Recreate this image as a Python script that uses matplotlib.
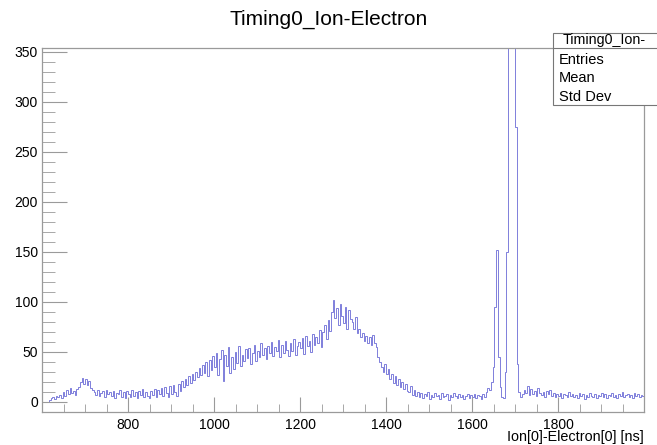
import numpy as np
import matplotlib
matplotlib.use("Agg")
from matplotlib import pyplot as plt
from matplotlib.patches import Rectangle
from matplotlib.ticker import MultipleLocator

# histogram: 350 bins of 4 ns from 600 to 2000 ns
bin_lo = 600
bin_hi = 2000
counts = [
    0, 0, 0, 0, 2, 4, 5, 3, 6, 5,             # 600
    7, 4, 10, 6, 12, 8, 14, 9, 11, 7,         # 640
    13, 15, 20, 24, 18, 23, 17, 21, 14, 12,   # 680
    10, 7, 12, 6, 9, 11, 5, 12, 8, 10,        # 720
    6, 11, 4, 9, 8, 12, 5, 10, 4, 11,         # 760
    8, 5, 12, 6, 10, 4, 11, 7, 13, 5,         # 800
    10, 6, 4, 11, 7, 13, 5, 12, 8, 14,        # 840
    6, 15, 9, 5, 16, 8, 17, 10, 6, 18,        # 880
    11, 21, 15, 23, 17, 26, 19, 28, 22, 30,   # 920
    25, 34, 27, 37, 29, 40, 26, 42, 32, 46,   # 960
    35, 49, 27, 43, 52, 21, 47, 36, 55, 29,   # 1000
    45, 33, 50, 39, 56, 36, 47, 41, 53, 44,   # 1040
    54, 38, 49, 57, 41, 51, 45, 59, 47, 54,   # 1080
    43, 56, 49, 60, 46, 55, 51, 62, 45, 57,   # 1120
    49, 61, 52, 46, 59, 51, 63, 47, 56, 60,   # 1160
    54, 64, 48, 66, 56, 61, 50, 68, 57, 65,   # 1200
    59, 72, 55, 70, 77, 63, 82, 71, 90, 102,  # 1240
    84, 94, 77, 98, 86, 79, 95, 73, 92, 83,   # 1280
    80, 73, 85, 69, 73, 65, 69, 61, 66, 59,   # 1320
    65, 57, 67, 59, 55, 45, 40, 35, 30, 38,   # 1360
    28, 33, 23, 28, 19, 26, 17, 23, 15, 20,   # 1400
    13, 18, 11, 10, 16, 7, 12, 6, 10, 5,      # 1440
    9, 4, 8, 6, 10, 3, 7, 5, 9, 6,            # 1480
    7, 3, 9, 5, 6, 8, 2, 7, 5, 9,             # 1520
    6, 4, 8, 5, 7, 3, 6, 8, 4, 7,             # 1560
    5, 8, 4, 7, 6, 3, 8, 5, 10, 14,           # 1600
    12, 20, 35, 95, 152, 45, 15, 5, 4, 30,    # 1640
    150, 900, 1400, 1200, 700, 275, 38, 10, 5, 8,  # 1680
    12, 9, 16, 7, 13, 8, 11, 6, 14, 9,        # 1720
    7, 10, 5, 11, 8, 12, 6, 9, 5, 8,          # 1760
    6, 9, 4, 8, 7, 5, 10, 6, 8, 5,            # 1800
    7, 4, 9, 6, 8, 3, 7, 5, 9, 6,             # 1840
    5, 8, 4, 7, 6, 9, 5, 8, 4, 7,             # 1880
    6, 9, 5, 7, 4, 8, 6, 10, 5, 7,            # 1920
    8, 5, 7, 4, 9, 6, 8, 5, 7, 6,             # 1960
]
xticks = [800, 1000, 1200, 1400, 1600, 1800]
title = "Timing0_Ion-Electron"
xlabel = "Ion[0]-Electron[0] [ns]"
stats_header = "Timing0_Ion-"
stats_labels = ["Entries", "Mean", "Std Dev"]

plt.rcParams["font.family"] = ["Liberation Sans", "DejaVu Sans"]

edges = np.linspace(bin_lo, bin_hi, len(counts) + 1)
axis_grey = "#9a9a9a"
box_grey = "#777777"

fig = plt.figure(figsize=(6.57, 4.45), dpi=100)
ax = fig.add_axes([42 / 657, 1 - 412 / 445, 602 / 657, 364 / 445])
ax.stairs(counts, edges, color="#6a6ad6", linewidth=0.6)
ax.set_xlim(600, 2000)
ax.set_ylim(-10.3, 353.7)

for s in ax.spines.values():
    s.set_color(axis_grey)
    s.set_linewidth(0.9)

ax.set_xticks(xticks)
ax.xaxis.set_minor_locator(MultipleLocator(50))
ax.yaxis.set_major_locator(MultipleLocator(50))
ax.yaxis.set_minor_locator(MultipleLocator(10))
ax.tick_params(axis="x", which="major", direction="in", length=11, color=axis_grey,
               labelsize=10, pad=4)
ax.tick_params(axis="x", which="minor", direction="in", length=5.5, color=axis_grey)
ax.tick_params(axis="y", which="major", direction="in", length=18, color=axis_grey,
               labelsize=10, pad=3)
ax.tick_params(axis="y", which="minor", direction="in", length=9, color=axis_grey)

fig.text(0.5, 1 - 19 / 445, title, ha="center", va="center", fontsize=15)
fig.text(644 / 657, 1 - 437.5 / 445, xlabel, ha="right", va="center", fontsize=10.4)

# stats box, cut by the right edge like in the original
x0 = 553 / 657
y_top = 1 - 33 / 445
y_sep = 1 - 48 / 445
y_bot = 1 - 105 / 445
box = Rectangle((x0, y_bot), 1.2 - x0, y_top - y_bot, transform=fig.transFigure,
                facecolor="white", edgecolor=box_grey, linewidth=0.8, clip_on=False)
fig.patches.append(box)
fig.add_artist(plt.Line2D([x0, 1.2], [y_sep, y_sep], transform=fig.transFigure,
                          color=box_grey, linewidth=0.8))
fig.text(563 / 657, (y_top + y_sep) / 2, stats_header, ha="left",
         va="center", fontsize=10.3)
for i, lab in enumerate(stats_labels):
    fig.text(x0 + 6 / 657, 1 - (60 + 18.5 * i) / 445, lab, ha="left", va="center",
             fontsize=10.5)

fig.savefig("out.png", dpi=100)
